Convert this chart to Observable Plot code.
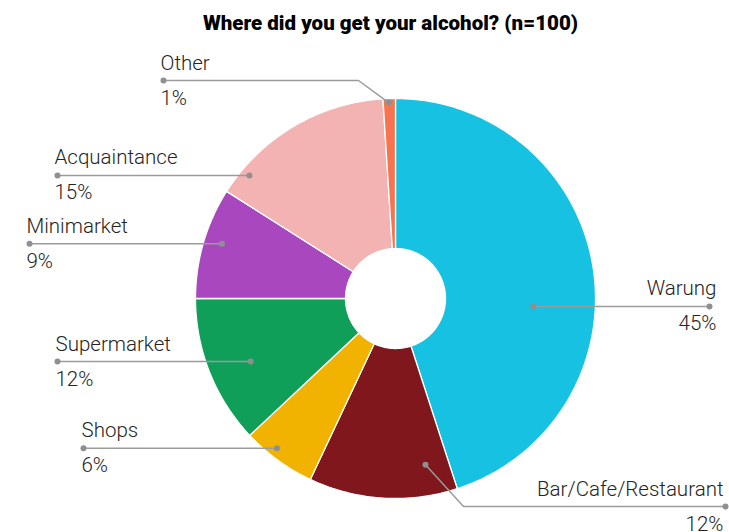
<!DOCTYPE html>
<html><head><meta charset="utf-8">
<script src="https://cdn.jsdelivr.net/npm/d3@7"></script>
<script src="https://cdn.jsdelivr.net/npm/@observablehq/plot@0.6"></script>
<style>
body{margin:0;background:#fff;font-family:Roboto,sans-serif;}
#title{height:40px;box-sizing:border-box;padding-top:11px;padding-left:52px;text-align:center;font-weight:900;font-size:20.5px;line-height:24px;color:#000;}
#chart svg{display:block;}
</style></head><body>
<div id="title">Where did you get your alcohol? (n=100)</div>
<div id="chart"></div>
<script>
// ---- data ----
const categories = ["Warung","Bar/Cafe/Restaurant","Shops","Supermarket","Minimarket","Acquaintance","Other"];
const shares = [45,12,6,12,9,15,1];
const pctLabels = ["45%","12%","6%","12%","9%","15%","1%"];
const colors = ["#16c1e1","#7f171c","#f1b300","#109f58","#a948be","#f2b3b2","#f8744f"];

// ---- layout (page pixels; converted to chart units below) ----
const CX = 395, CY = 258, R = 200, INNER = 0.25, TOP = 40;
const leaderLayout = [
  {t:0.576, r:0.69,  elbow:null,      endX:709, tdx:7,  anchor:"end"},
  {t:0.18,  r:0.845, elbow:[463,506], endX:725, tdx:-2, anchor:"end"},
  {t:0.61,  r:0.955, elbow:null,      endX:83,  tdx:-2, anchor:"start"},
  {t:0.456, r:0.79,  elbow:null,      endX:57,  tdx:-2, anchor:"start"},
  {t:0.54,  r:0.91,  elbow:null,      endX:29,  tdx:-3, anchor:"start"},
  {t:0.143, r:0.955, elbow:null,      endX:57,  tdx:-3, anchor:"start"},
  {t:0.44,  r:0.98,  elbow:[358,80],  endX:163, tdx:-3, anchor:"start"}
];
const ux = px => (px - CX) / R;
const uy = py => (CY + TOP - py) / R;

// ---- geometry from data ----
const total = d3.sum(shares);
let acc = 0;
const slices = categories.map((c, i) => {
  const a0 = acc / total * 2 * Math.PI;
  acc += shares[i];
  const a1 = acc / total * 2 * Math.PI;
  return {c, i, a0, a1, color: colors[i]};
});
const polar = (a, r) => ({x: r * Math.sin(a), y: r * Math.cos(a)});

const poly = [];
for (const s of slices) {
  const n = Math.max(2, Math.ceil((s.a1 - s.a0) / (Math.PI / 180)));
  for (let k = 0; k <= n; k++) {
    const a = s.a0 + (s.a1 - s.a0) * k / n;
    poly.push({key: s.c, color: s.color, ...polar(a, 1)});
  }
  for (let k = n; k >= 0; k--) {
    const a = s.a0 + (s.a1 - s.a0) * k / n;
    poly.push({key: s.c, color: s.color, ...polar(a, INNER)});
  }
}

const leaderPts = [], dotPts = [], nameLabels = [], pctTexts = [];
slices.forEach((s, i) => {
  const L = leaderLayout[i];
  const p = polar(s.a0 + (s.a1 - s.a0) * L.t, L.r);
  const pts = [p];
  let lineY = p.y;
  if (L.elbow) { pts.push({x: ux(L.elbow[0]), y: uy(L.elbow[1])}); lineY = uy(L.elbow[1]); }
  const end = {x: ux(L.endX), y: lineY};
  pts.push(end);
  pts.forEach(q => leaderPts.push({key: s.c, ...q}));
  dotPts.push(p, end);
  nameLabels.push({x: end.x, y: end.y, text: s.c, anchor: L.anchor, dx: L.tdx});
  pctTexts.push({x: end.x, y: end.y, text: pctLabels[i], anchor: L.anchor, dx: L.tdx});
});

const textOpts = (arr, dy) => arr.map(d => Plot.text([d], {
  x: "x", y: "y", text: "text", textAnchor: d.anchor, dx: d.dx, dy,
  lineAnchor: "bottom", fontSize: 20.5, fontWeight: 300, fill: "#252423", fontFamily: "Roboto"
}));

const chart = Plot.plot({
  width: 729, height: 492, margin: 0,
  x: {domain: [-1, 1], range: [CX - R, CX + R], axis: null},
  y: {domain: [-1, 1], range: [CY + R, CY - R], axis: null},
  color: {type: "identity"},
  marks: [
    Plot.line(poly, {x: "x", y: "y", z: "key", fill: "color", stroke: "white", strokeWidth: 1.3, curve: "linear-closed"}),
    Plot.line(leaderPts, {x: "x", y: "y", z: "key", stroke: "#9b9b9b", strokeWidth: 1.5}),
    Plot.dot(dotPts, {x: "x", y: "y", r: 3, fill: "#8f8f8f"}),
    ...textOpts(nameLabels, -11),
    ...textOpts(pctTexts, 24)
  ]
});
document.getElementById("chart").appendChild(chart);
</script>
</body></html>
